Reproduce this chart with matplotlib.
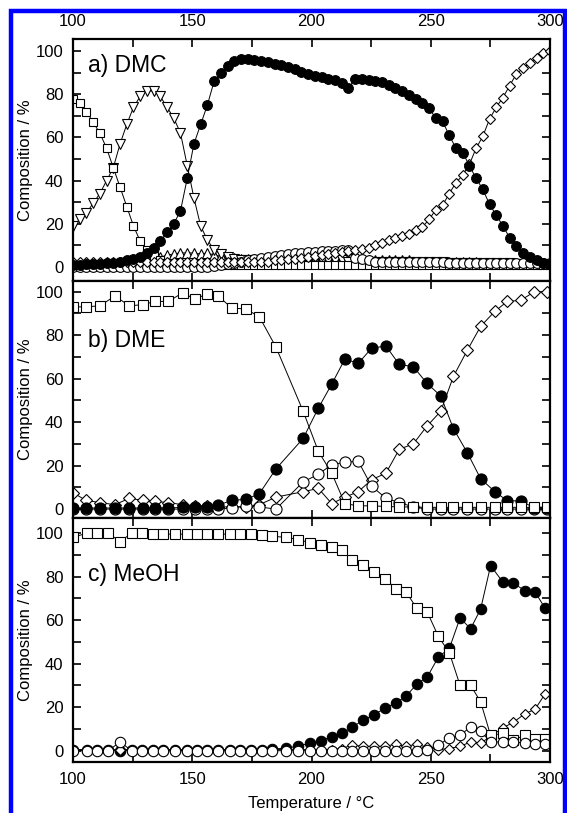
import numpy as np
import matplotlib.pyplot as plt
from matplotlib.patches import Rectangle

plt.rcParams['font.family'] = ['Liberation Sans', 'DejaVu Sans']

# ---- a) DMC feed, 72 evenly spaced readings
Ta = np.linspace(100, 300, 72)
a_sq = [78, 76, 72, 67, 62, 55, 46, 37, 28, 19, 12, 8, 5, 3, 2] + [1] * 57
a_tdn = [19, 22, 25, 29.5, 34, 40, 46, 57, 66, 74, 79, 81.5, 81.5, 79, 74, 69, 62, 47, 32, 19,
         12.5, 8, 6, 4.5, 3.5, 3] + [3] * 15 + [2.5] * 15 + [2] * 10 + [1.5] * 6
a_tup = [1.5] * 9 + [2, 2.5, 3, 4, 4.5, 5.5, 6, 6.5, 6.5, 6.5, 6, 6.5, 5.5, 5, 4.5, 4] + \
        [3.5] * 11 + [3] * 15 + [2.5] * 10 + [2] * 11
a_oc = [0] * 21 + [0.5, 1, 1.5, 2, 2.5, 3, 3.5, 4, 4.5, 5, 5.5, 6, 6.5, 6.5, 7, 7, 7.5, 7.5, 7.5,
                   8, 8, 4, 3.5, 3] + [2.5] * 11 + [2] * 16
a_dia = [2.5] * 30 + [3, 3, 3.5, 3.5, 4, 4.5, 5, 5.5, 6, 6.5, 7, 7.5, 8, 8.5, 9, 10, 11, 12.5,
                      13.5, 14.5, 15.5, 17, 18.5, 22, 26.5, 28.5, 34, 39, 42.5, 47.5, 55, 60.5,
                      68.5, 74, 78.5, 84, 89.5, 92, 94.5, 97, 99, 100]
a_fc = [1.0, 1.0, 1.2, 1.3, 1.5, 1.8, 2.0, 2.5, 3.0, 3.5,
        4.5, 6.5, 9, 12, 16, 20, 26, 41, 57, 66,
        75, 86, 90, 93, 95.5, 96.5, 96.5, 96, 95.5, 95,
        94, 93.5, 92.5, 91.5, 90.5, 89.5, 88.5, 88, 87, 86.5,
        85, 83, 87, 87, 86.5, 86, 85.5, 84.5, 83, 81.5,
        79.5, 78, 76, 73.5, 69, 67.5, 61, 55, 53, 47,
        41, 36, 29, 24, 19, 13.5, 9.5, 6.5, 4.5, 3, 2, 1.5]

# ---- b) DME feed
Tb = [100, 105.5, 111.3, 117.6, 123.6, 129.2, 134.4, 140.0, 146.0, 151.2, 156.1, 160.9,
      166.5, 172.5, 178.1, 185.1, 196.5, 202.9, 208.5, 214.0, 219.6, 225.2, 231.2, 236.8,
      242.7, 248.3, 254.2, 259.5, 265.3, 270.9, 276.9, 282.1, 287.7, 293.5, 298.6]
b_sq = [93, 93, 93.5, 98, 93.5, 94, 95.5, 95.5, 99.5, 96.5, 99, 98, 92.5, 92, 88.5, 74.5,
        45, 26.5, 16.5, 2.5, 1.5, 1.5, 1.2, 1, 1, 0.8, 0.8, 0.8, 0.8, 0.8, 0.8, 0.8, 0.8, 0.8, 0.8]
b_fc = [0.5, 0.5, 0.5, 0.5, 0.5, 0.5, 0.5, 0.5, 0.8, 1, 1, 1.8, 4, 4.5, 7, 18.5, 32.5, 46.5,
        57.5, 69, 67, 74, 75, 66.5, 65.5, 58, 52, 37, 26, 14, 8, 3.8, 3.8, 0.5, 0.5]
b_oc = [0, 0, 0, 0, 0, 0, 0, 0, 0, 0, 0, 0, 0.5, 1.5, 1, 0, 12.5, 16, 20.5, 21.5, 22, 10.5,
        5, 3, 1, 0, 0, 0, 0, 0, 0, 0, 0, 0, 0]
b_dia = [7.5, 4, 3, 2, 5, 4, 3.5, 3, 2, 1.5, 1.5, 1, 1, 1, 2, 5.5, 8, 9.5, 2.5, 5.5, 8,
         13.5, 16.5, 27.5, 30, 38, 45, 61, 73, 84, 91, 95.5, 96, 100, 100]

# ---- c) MeOH feed
Tc = [100, 106.0, 109.9, 114.8, 119.7, 124.6, 128.8, 133.7, 137.9, 142.8, 147.7, 151.9,
      156.1, 160.9, 165.8, 170.0, 174.5, 179.1, 183.3, 189.5, 194.5, 199.4, 203.9, 208.5,
      212.7, 216.9, 221.7, 226.2, 230.8, 235.4, 239.6, 244.1, 248.6, 253.2, 257.8, 262.3,
      266.7, 270.9, 275.1, 280.2, 284.6, 289.5, 293.7, 297.9]
c_sq = [98, 100, 100, 100, 96, 100, 100, 99.5, 99.5, 99.5, 99.5, 99.5, 99.5, 99.5, 99.5,
        99.5, 99.5, 99, 98.5, 98, 97, 95.5, 94.5, 93.5, 92, 87.5, 85.5, 82, 79, 74.5, 73,
        65.5, 63.5, 52.5, 45, 30, 30, 22.5, 7, 8, 5, 7, 5.5, 5.5]
c_fc = [0.3, 0.3, 0.3, 0.3, 0, 0.3, 0.3, 0.3, 0.3, 0.3, 0.3, 0.3, 0.3, 0.3, 0.3, 0.3, 0.3,
        0.5, 0.8, 1.1, 2.2, 3.4, 4.6, 6.4, 8, 10.7, 14, 16.5, 19.5, 22, 25, 30.5, 34, 43, 47,
        61, 56, 65, 85, 77.5, 77, 73.5, 73, 65.5]
c_oc = [0, 0, 0, 0, 4, 0, 0, 0, 0, 0, 0, 0, 0, 0, 0, 0, 0, 0, 0, 0, 0, 0, 0, 0, 0, 0, 0,
        0, 0, 0, 0, 0, 0.5, 2.5, 6, 7, 11, 9, 4, 4, 4, 3.5, 3, 3]
c_dia = [0.5] * 24 + [1, 2.5, 2, 2, 2, 3, 2, 3, 1.5, 0.5, 1, 2, 4, 3.5, 6.5, 10.5, 13, 17,
                      19, 26]

fig = plt.figure(figsize=(5.67, 8.13), dpi=100)
W, H = 567.0, 813.0
x0, x1 = 73, 550


def make_ax(top, bottom, ylim):
    ax = fig.add_axes([x0 / W, 1 - bottom / H, (x1 - x0) / W, (bottom - top) / H])
    ax.set_xlim(100, 300)
    ax.set_ylim(*ylim)
    ax.set_xticks([100, 150, 200, 250, 300])
    ax.set_xticks([125, 175, 225, 275], minor=True)
    ax.set_yticks([0, 20, 40, 60, 80, 100])
    ax.set_yticks([10, 30, 50, 70, 90], minor=True)
    ax.tick_params(which='both', direction='in', top=True, right=True, width=1.2,
                   labelsize=12, pad=7, length=6)
    for s in ax.spines.values():
        s.set_linewidth(1.6)
    ax.set_ylabel('Composition / %', fontsize=12, labelpad=2)
    return ax


def line(ax, x, y, m, ms, filled=False):
    ax.plot(x, y, color='black', lw=0.7, marker=m, ms=ms, mew=0.8, mec='black',
            mfc='black' if filled else 'white')


# a) DMC
ax = make_ax(39, 281, (-6.5, 105.6))
line(ax, Ta, a_tup, '^', 6.6)
line(ax, Ta, a_tdn, 'v', 6.6)
line(ax, Ta, a_sq, 's', 5.8)
line(ax, Ta, a_oc, 'o', 7)
line(ax, Ta, a_dia, 'D', 5)
line(ax, Ta, a_fc, 'o', 7, filled=True)
ax.tick_params(labeltop=True, labelbottom=False)
ax.text(0.032, 0.865, 'a) DMC', transform=ax.transAxes, fontsize=16.5)

# b) DME
ax = make_ax(281, 518, (-4.1, 104.9))
line(ax, Tb, b_dia, 'D', 6)
line(ax, Tb, b_oc, 'o', 8)
line(ax, Tb, b_fc, 'o', 8, filled=True)
line(ax, Tb, b_sq, 's', 7)
ax.tick_params(labelbottom=False)
ax.text(0.032, 0.72, 'b) DME', transform=ax.transAxes, fontsize=16.5)

# c) MeOH
ax = make_ax(518, 762, (-5.2, 106.9))
line(ax, Tc, c_fc, 'o', 7.5, filled=True)
line(ax, Tc, c_dia, 'D', 5.3)
line(ax, Tc, c_sq, 's', 6.5)
line(ax, Tc, c_oc, 'o', 7.5)
ax.text(0.032, 0.74, 'c) MeOH', transform=ax.transAxes, fontsize=16.5)
ax.set_xlabel('Temperature / °C', fontsize=12, labelpad=7)

# blue frame around the figure
fig.patches.append(Rectangle((10.8 / W, -0.05), (565 - 10.8) / W, 1.05 - 11 / H,
                             transform=fig.transFigure, fill=False,
                             edgecolor='#0000ff', lw=3.2))

fig.savefig('out.png', dpi=100)
